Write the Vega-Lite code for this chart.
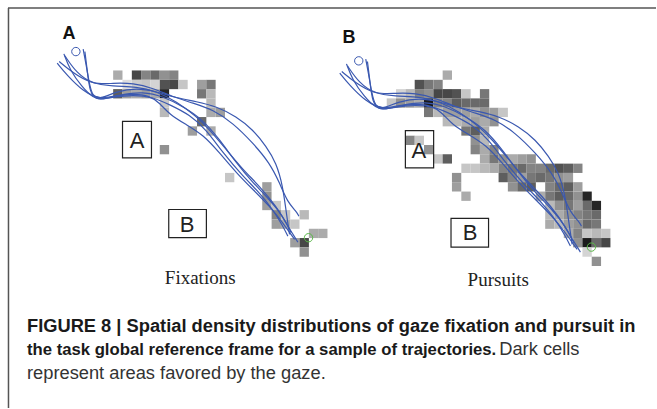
{
"$schema": "https://vega.github.io/schema/vega-lite/v6.json",
"width": 657, "height": 409,
"autosize": {"type": "fit", "contains": "padding"},
"padding": 0,
"background": "white",
"config": {"view": {"stroke": null}},
"datasets": {
"frame": [
{"x": 8, "y": 8, "x2": 657, "y2": 8},
{"x": 8.5, "y": 8, "x2": 8.5, "y2": 409}
],
"boxes": [
{"x": 122.7, "y": 121.7, "x2": 151.7, "y2": 158.3},
{"x": 169, "y": 210, "x2": 206.7, "y2": 238.3},
{"x": 406, "y": 131, "x2": 434.3, "y2": 168.3},
{"x": 451.7, "y": 219, "x2": 489.3, "y2": 247.7}
],
"cells": [
{"x":118,"y":75.3,"v":0.3},{"x":136.7,"y":75.3,"v":0.7},{"x":146,"y":75.3,"v":0.45},{"x":155.3,"y":75.3,"v":0.55},{"x":164.7,"y":75.3,"v":0.4},{"x":174,"y":75.3,"v":0.45},
{"x":127.3,"y":84.7,"v":0.12},{"x":136.7,"y":84.7,"v":0.18},{"x":146,"y":84.7,"v":0.2},{"x":155.3,"y":84.7,"v":0.15},{"x":164.7,"y":84.7,"v":0.65},{"x":174,"y":84.7,"v":0.7},{"x":183.3,"y":84.7,"v":0.2},{"x":202,"y":84.7,"v":0.35},{"x":211.3,"y":84.7,"v":0.5},
{"x":118,"y":94,"v":0.6},{"x":127.3,"y":94,"v":0.35},{"x":136.7,"y":94,"v":0.3},{"x":146,"y":94,"v":0.35},{"x":155.3,"y":94,"v":0.3},{"x":164.7,"y":94,"v":0.85},{"x":202,"y":94,"v":0.5},{"x":211.3,"y":94,"v":0.25},
{"x":164.7,"y":103.3,"v":0.2},{"x":211.3,"y":103.3,"v":0.25},
{"x":164.7,"y":112.7,"v":0.25},{"x":211.3,"y":112.7,"v":0.3},{"x":220.7,"y":112.7,"v":0.35},
{"x":202,"y":122,"v":0.55},
{"x":192.7,"y":131.3,"v":0.35},{"x":211.3,"y":131.3,"v":0.3},
{"x":164.7,"y":150,"v":0.4},
{"x":230,"y":178,"v":0.2},
{"x":267.3,"y":187.3,"v":0.35},
{"x":267.3,"y":196.7,"v":0.4},
{"x":267.3,"y":206,"v":0.35},{"x":276.7,"y":206,"v":0.2},
{"x":276.7,"y":215.3,"v":0.45},{"x":286,"y":215.3,"v":0.2},{"x":304.7,"y":215.3,"v":0.25},
{"x":276.7,"y":224.7,"v":0.35},{"x":286,"y":224.7,"v":0.3},{"x":295.3,"y":224.7,"v":0.2},
{"x":314,"y":234,"v":0.3},{"x":323.3,"y":234,"v":0.3},
{"x":295.3,"y":243.3,"v":0.35},{"x":304.7,"y":243.3,"v":0.7},
{"x":304.7,"y":252.7,"v":0.4},

{"x":448,"y":75.3,"v":0.3},
{"x":420,"y":84.7,"v":0.65},{"x":429.3,"y":84.7,"v":0.5},{"x":438.7,"y":84.7,"v":0.45},
{"x":401.3,"y":94,"v":0.15},{"x":410.7,"y":94,"v":0.25},{"x":420,"y":94,"v":0.45},{"x":429.3,"y":94,"v":0.4},{"x":438.7,"y":94,"v":0.7},{"x":448,"y":94,"v":0.7},{"x":457.3,"y":94,"v":0.65},{"x":466.7,"y":94,"v":0.2},{"x":485.3,"y":94,"v":0.5},
{"x":392,"y":103.3,"v":0.2},{"x":401.3,"y":103.3,"v":0.4},{"x":410.7,"y":103.3,"v":0.35},{"x":420,"y":103.3,"v":0.3},{"x":429.3,"y":103.3,"v":0.9},{"x":438.7,"y":103.3,"v":0.45},{"x":448,"y":103.3,"v":0.45},{"x":457.3,"y":103.3,"v":0.6},{"x":466.7,"y":103.3,"v":0.55},{"x":476,"y":103.3,"v":0.55},{"x":485.3,"y":103.3,"v":0.55},
{"x":429.3,"y":112.7,"v":0.5},{"x":438.7,"y":112.7,"v":0.25},{"x":448,"y":112.7,"v":0.35},{"x":457.3,"y":112.7,"v":0.35},{"x":466.7,"y":112.7,"v":0.35},{"x":476,"y":112.7,"v":0.3},{"x":485.3,"y":112.7,"v":0.4},{"x":494.7,"y":112.7,"v":0.35},{"x":504,"y":112.7,"v":0.2},
{"x":448,"y":122,"v":0.25},{"x":457.3,"y":122,"v":0.25},{"x":466.7,"y":122,"v":0.3},{"x":476,"y":122,"v":0.35},{"x":485.3,"y":122,"v":0.3},{"x":494.7,"y":122,"v":0.4},
{"x":466.7,"y":131.3,"v":0.5},{"x":476,"y":131.3,"v":0.6},{"x":485.3,"y":131.3,"v":0.3},
{"x":410.7,"y":140.7,"v":0.45},{"x":420,"y":140.7,"v":0.2},{"x":476,"y":140.7,"v":0.4},{"x":485.3,"y":140.7,"v":0.25},
{"x":429.3,"y":150,"v":0.4},{"x":476,"y":150,"v":0.45},{"x":485.3,"y":150,"v":0.3},{"x":494.7,"y":150,"v":0.45},
{"x":438.7,"y":159.3,"v":0.2},{"x":448,"y":159.3,"v":0.6},{"x":485.3,"y":159.3,"v":0.3},{"x":494.7,"y":159.3,"v":0.5},{"x":504,"y":159.3,"v":0.4},{"x":513.3,"y":159.3,"v":0.3},{"x":522.7,"y":159.3,"v":0.35},{"x":532,"y":159.3,"v":0.4},
{"x":466.7,"y":168.7,"v":0.2},{"x":476,"y":168.7,"v":0.2},{"x":485.3,"y":168.7,"v":0.25},{"x":494.7,"y":168.7,"v":0.3},{"x":504,"y":168.7,"v":0.45},{"x":513.3,"y":168.7,"v":0.5},{"x":522.7,"y":168.7,"v":0.55},{"x":532,"y":168.7,"v":0.45},{"x":541.3,"y":168.7,"v":0.45},{"x":550.7,"y":168.7,"v":0.55},{"x":560,"y":168.7,"v":0.65},{"x":569.3,"y":168.7,"v":0.6},{"x":578.7,"y":168.7,"v":0.45},
{"x":457.3,"y":178,"v":0.4},{"x":504,"y":178,"v":0.6},{"x":513.3,"y":178,"v":0.45},{"x":522.7,"y":178,"v":0.35},{"x":532,"y":178,"v":0.5},{"x":541.3,"y":178,"v":0.55},{"x":550.7,"y":178,"v":0.5},{"x":560,"y":178,"v":0.4},{"x":569.3,"y":178,"v":0.35},
{"x":457.3,"y":187.3,"v":0.35},{"x":513.3,"y":187.3,"v":0.4},{"x":522.7,"y":187.3,"v":0.55},{"x":532,"y":187.3,"v":0.6},{"x":550.7,"y":187.3,"v":0.45},{"x":560,"y":187.3,"v":0.55},{"x":569.3,"y":187.3,"v":0.6},{"x":578.7,"y":187.3,"v":0.35},
{"x":466.7,"y":196.7,"v":0.3},{"x":541.3,"y":196.7,"v":0.3},{"x":550.7,"y":196.7,"v":0.5},{"x":560,"y":196.7,"v":0.6},{"x":569.3,"y":196.7,"v":0.55},{"x":578.7,"y":196.7,"v":0.4},{"x":588,"y":196.7,"v":0.85},
{"x":550.7,"y":206,"v":0.25},{"x":560,"y":206,"v":0.4},{"x":569.3,"y":206,"v":0.5},{"x":578.7,"y":206,"v":0.35},{"x":588,"y":206,"v":0.55},{"x":597.3,"y":206,"v":0.85},
{"x":550.7,"y":215.3,"v":0.25},{"x":560,"y":215.3,"v":0.3},{"x":569.3,"y":215.3,"v":0.4},{"x":578.7,"y":215.3,"v":0.45},{"x":588,"y":215.3,"v":0.5},{"x":597.3,"y":215.3,"v":0.55},
{"x":550.7,"y":224.7,"v":0.3},{"x":560,"y":224.7,"v":0.25},{"x":569.3,"y":224.7,"v":0.35},{"x":578.7,"y":224.7,"v":0.4},{"x":588,"y":224.7,"v":0.55},{"x":597.3,"y":224.7,"v":0.5},
{"x":569.3,"y":234,"v":0.3},{"x":578.7,"y":234,"v":0.45},{"x":588,"y":234,"v":0.2},{"x":597.3,"y":234,"v":0.25},{"x":606.7,"y":234,"v":0.2},
{"x":578.7,"y":243.3,"v":0.4},{"x":588,"y":243.3,"v":0.9},{"x":597.3,"y":243.3,"v":0.55},{"x":606.7,"y":243.3,"v":0.7},
{"x":588,"y":252.7,"v":0.15},
{"x":597.3,"y":262,"v":0.4}
],
"lines": [
{"id":"a1","o":0,"x":64,"y":54},{"id":"a1","o":1,"x":70,"y":70},{"id":"a1","o":2,"x":81.7,"y":86.7},{"id":"a1","o":3,"x":93.3,"y":98.3},{"id":"a1","o":4,"x":103.3,"y":100},{"id":"a1","o":5,"x":116.7,"y":96},{"id":"a1","o":6,"x":133.3,"y":94},{"id":"a1","o":7,"x":150,"y":96},{"id":"a1","o":8,"x":160,"y":103.3},{"id":"a1","o":9,"x":170,"y":115},{"id":"a1","o":10,"x":186.7,"y":125},{"id":"a1","o":11,"x":203.3,"y":135},{"id":"a1","o":12,"x":220,"y":153.3},{"id":"a1","o":13,"x":236.7,"y":173.3},{"id":"a1","o":14,"x":253.3,"y":190},{"id":"a1","o":15,"x":270,"y":206.7},{"id":"a1","o":16,"x":283.3,"y":223.3},{"id":"a1","o":17,"x":295,"y":240},
{"id":"a2","o":0,"x":59.3,"y":61.7},{"id":"a2","o":1,"x":73.3,"y":73.3},{"id":"a2","o":2,"x":90,"y":83.3},{"id":"a2","o":3,"x":113.3,"y":86.7},{"id":"a2","o":4,"x":136.7,"y":86.7},{"id":"a2","o":5,"x":156.7,"y":91.7},{"id":"a2","o":6,"x":176.7,"y":101.7},{"id":"a2","o":7,"x":196.7,"y":116.7},{"id":"a2","o":8,"x":210,"y":130},{"id":"a2","o":9,"x":226.7,"y":150},{"id":"a2","o":10,"x":243.3,"y":170},{"id":"a2","o":11,"x":260,"y":186.7},{"id":"a2","o":12,"x":276.7,"y":206.7},{"id":"a2","o":13,"x":288.3,"y":226.7},{"id":"a2","o":14,"x":298.3,"y":242.7},
{"id":"a3","o":0,"x":83.3,"y":49.3},{"id":"a3","o":1,"x":86,"y":63.3},{"id":"a3","o":2,"x":89.3,"y":83.3},{"id":"a3","o":3,"x":92.7,"y":96.7},{"id":"a3","o":4,"x":100,"y":99.3},{"id":"a3","o":5,"x":116.7,"y":91.7},{"id":"a3","o":6,"x":136.7,"y":88.3},{"id":"a3","o":7,"x":156.7,"y":91.7},{"id":"a3","o":8,"x":176.7,"y":98.3},{"id":"a3","o":9,"x":196.7,"y":101.7},{"id":"a3","o":10,"x":216.7,"y":106.7},{"id":"a3","o":11,"x":236.7,"y":116.7},{"id":"a3","o":12,"x":253.3,"y":130},{"id":"a3","o":13,"x":266.7,"y":146.7},{"id":"a3","o":14,"x":276.7,"y":163.3},{"id":"a3","o":15,"x":283.3,"y":186.7},{"id":"a3","o":16,"x":286.7,"y":213.3},{"id":"a3","o":17,"x":290,"y":235},
{"id":"a4","o":0,"x":65,"y":56},{"id":"a4","o":1,"x":76.7,"y":73.3},{"id":"a4","o":2,"x":93.3,"y":85},{"id":"a4","o":3,"x":113.3,"y":83.3},{"id":"a4","o":4,"x":133.3,"y":83.3},{"id":"a4","o":5,"x":153.3,"y":88.3},{"id":"a4","o":6,"x":173.3,"y":97.3},{"id":"a4","o":7,"x":193.3,"y":103.3},{"id":"a4","o":8,"x":213.3,"y":110},{"id":"a4","o":9,"x":233.3,"y":123.3},{"id":"a4","o":10,"x":253.3,"y":143.3},{"id":"a4","o":11,"x":270,"y":163.3},{"id":"a4","o":12,"x":280,"y":183.3},{"id":"a4","o":13,"x":288.3,"y":203.3},{"id":"a4","o":14,"x":296.7,"y":211.7},{"id":"a4","o":15,"x":299.3,"y":216.7},
{"id":"a5","o":0,"x":57.3,"y":63.3},{"id":"a5","o":1,"x":66.7,"y":75},{"id":"a5","o":2,"x":83.3,"y":91.7},{"id":"a5","o":3,"x":100,"y":100},{"id":"a5","o":4,"x":120,"y":95},{"id":"a5","o":5,"x":143.3,"y":91.7},{"id":"a5","o":6,"x":163.3,"y":96.7},{"id":"a5","o":7,"x":183.3,"y":106.7},{"id":"a5","o":8,"x":203.3,"y":120},{"id":"a5","o":9,"x":220,"y":140},{"id":"a5","o":10,"x":236.7,"y":163.3},{"id":"a5","o":11,"x":253.3,"y":183.3},{"id":"a5","o":12,"x":270,"y":200},{"id":"a5","o":13,"x":283.3,"y":216.7},{"id":"a5","o":14,"x":291.7,"y":233.3},
{"id":"a6","o":0,"x":85,"y":51.7},{"id":"a6","o":1,"x":87.3,"y":70},{"id":"a6","o":2,"x":90,"y":93.3},{"id":"a6","o":3,"x":96.7,"y":100.7},{"id":"a6","o":4,"x":113.3,"y":97.3},{"id":"a6","o":5,"x":133.3,"y":95},{"id":"a6","o":6,"x":153.3,"y":97.3},{"id":"a6","o":7,"x":170,"y":105},{"id":"a6","o":8,"x":190,"y":115},{"id":"a6","o":9,"x":206.7,"y":130},{"id":"a6","o":10,"x":223.3,"y":153.3},{"id":"a6","o":11,"x":243.3,"y":176.7},{"id":"a6","o":12,"x":260,"y":193.3},{"id":"a6","o":13,"x":273.3,"y":210},{"id":"a6","o":14,"x":283.3,"y":226.7},{"id":"a6","o":15,"x":288.3,"y":236.7},
{"id":"b1","o":0,"x":347,"y":64},{"id":"b1","o":1,"x":353,"y":80},{"id":"b1","o":2,"x":364.7,"y":96.7},{"id":"b1","o":3,"x":376.3,"y":108.3},{"id":"b1","o":4,"x":386.3,"y":110},{"id":"b1","o":5,"x":399.7,"y":106},{"id":"b1","o":6,"x":416.3,"y":104},{"id":"b1","o":7,"x":433,"y":106},{"id":"b1","o":8,"x":443,"y":113.3},{"id":"b1","o":9,"x":453,"y":125},{"id":"b1","o":10,"x":469.7,"y":135},{"id":"b1","o":11,"x":486.3,"y":145},{"id":"b1","o":12,"x":503,"y":163.3},{"id":"b1","o":13,"x":519.7,"y":183.3},{"id":"b1","o":14,"x":536.3,"y":200},{"id":"b1","o":15,"x":553,"y":216.7},{"id":"b1","o":16,"x":566.3,"y":233.3},{"id":"b1","o":17,"x":578,"y":250},
{"id":"b2","o":0,"x":342.3,"y":71.7},{"id":"b2","o":1,"x":356.3,"y":83.3},{"id":"b2","o":2,"x":373,"y":93.3},{"id":"b2","o":3,"x":396.3,"y":96.7},{"id":"b2","o":4,"x":419.7,"y":96.7},{"id":"b2","o":5,"x":439.7,"y":101.7},{"id":"b2","o":6,"x":459.7,"y":111.7},{"id":"b2","o":7,"x":479.7,"y":126.7},{"id":"b2","o":8,"x":493,"y":140},{"id":"b2","o":9,"x":509.7,"y":160},{"id":"b2","o":10,"x":526.3,"y":180},{"id":"b2","o":11,"x":543,"y":196.7},{"id":"b2","o":12,"x":559.7,"y":216.7},{"id":"b2","o":13,"x":571.3,"y":236.7},{"id":"b2","o":14,"x":581.3,"y":252.7},
{"id":"b3","o":0,"x":366.3,"y":59.3},{"id":"b3","o":1,"x":369,"y":73.3},{"id":"b3","o":2,"x":372.3,"y":93.3},{"id":"b3","o":3,"x":375.7,"y":106.7},{"id":"b3","o":4,"x":383,"y":109.3},{"id":"b3","o":5,"x":399.7,"y":101.7},{"id":"b3","o":6,"x":419.7,"y":98.3},{"id":"b3","o":7,"x":439.7,"y":101.7},{"id":"b3","o":8,"x":459.7,"y":108.3},{"id":"b3","o":9,"x":479.7,"y":111.7},{"id":"b3","o":10,"x":499.7,"y":116.7},{"id":"b3","o":11,"x":519.7,"y":126.7},{"id":"b3","o":12,"x":536.3,"y":140},{"id":"b3","o":13,"x":549.7,"y":156.7},{"id":"b3","o":14,"x":559.7,"y":173.3},{"id":"b3","o":15,"x":566.3,"y":196.7},{"id":"b3","o":16,"x":569.7,"y":223.3},{"id":"b3","o":17,"x":573,"y":245},
{"id":"b4","o":0,"x":348,"y":66},{"id":"b4","o":1,"x":359.7,"y":83.3},{"id":"b4","o":2,"x":376.3,"y":95},{"id":"b4","o":3,"x":396.3,"y":93.3},{"id":"b4","o":4,"x":416.3,"y":93.3},{"id":"b4","o":5,"x":436.3,"y":98.3},{"id":"b4","o":6,"x":456.3,"y":107.3},{"id":"b4","o":7,"x":476.3,"y":113.3},{"id":"b4","o":8,"x":496.3,"y":120},{"id":"b4","o":9,"x":516.3,"y":133.3},{"id":"b4","o":10,"x":536.3,"y":153.3},{"id":"b4","o":11,"x":553,"y":173.3},{"id":"b4","o":12,"x":563,"y":193.3},{"id":"b4","o":13,"x":571.3,"y":213.3},{"id":"b4","o":14,"x":579.7,"y":221.7},{"id":"b4","o":15,"x":582.3,"y":226.7},
{"id":"b5","o":0,"x":340.3,"y":73.3},{"id":"b5","o":1,"x":349.7,"y":85},{"id":"b5","o":2,"x":366.3,"y":101.7},{"id":"b5","o":3,"x":383,"y":110},{"id":"b5","o":4,"x":403,"y":105},{"id":"b5","o":5,"x":426.3,"y":101.7},{"id":"b5","o":6,"x":446.3,"y":106.7},{"id":"b5","o":7,"x":466.3,"y":116.7},{"id":"b5","o":8,"x":486.3,"y":130},{"id":"b5","o":9,"x":503,"y":150},{"id":"b5","o":10,"x":519.7,"y":173.3},{"id":"b5","o":11,"x":536.3,"y":193.3},{"id":"b5","o":12,"x":553,"y":210},{"id":"b5","o":13,"x":566.3,"y":226.7},{"id":"b5","o":14,"x":574.7,"y":243.3},
{"id":"b6","o":0,"x":368,"y":61.7},{"id":"b6","o":1,"x":370.3,"y":80},{"id":"b6","o":2,"x":373,"y":103.3},{"id":"b6","o":3,"x":379.7,"y":110.7},{"id":"b6","o":4,"x":396.3,"y":107.3},{"id":"b6","o":5,"x":416.3,"y":105},{"id":"b6","o":6,"x":436.3,"y":107.3},{"id":"b6","o":7,"x":453,"y":115},{"id":"b6","o":8,"x":473,"y":125},{"id":"b6","o":9,"x":489.7,"y":140},{"id":"b6","o":10,"x":506.3,"y":163.3},{"id":"b6","o":11,"x":526.3,"y":186.7},{"id":"b6","o":12,"x":543,"y":203.3},{"id":"b6","o":13,"x":556.3,"y":220},{"id":"b6","o":14,"x":566.3,"y":236.7},{"id":"b6","o":15,"x":571.3,"y":246.7}
],
"starts": [{"x": 76, "y": 51.7}, {"x": 359.3, "y": 61}],
"ends": [{"x": 309, "y": 238.3}, {"x": 592.3, "y": 247.7}],
"texts": [
{"g": "panel", "t": "A", "x": 62.5, "y": 39.5},
{"g": "panel", "t": "B", "x": 343, "y": 43},
{"g": "box", "t": "A", "x": 137.3, "y": 148.3},
{"g": "box", "t": "B", "x": 187.5, "y": 232.7},
{"g": "box", "t": "A", "x": 419.6, "y": 158.3},
{"g": "box", "t": "B", "x": 470.7, "y": 240.7},
{"g": "serif", "t": "Fixations", "x": 200.5, "y": 285},
{"g": "serif", "t": "Pursuits", "x": 499, "y": 286.5},
{"g": "capb", "t": "FIGURE 8 | Spatial density distributions of gaze fixation and pursuit in", "x": 27, "y": 332.5},
{"g": "capb2", "t": "the task global reference frame for a sample of trajectories.", "x": 27, "y": 356},
{"g": "capr", "t": "Dark cells", "x": 500, "y": 356},
{"g": "capr", "t": "represent areas favored by the gaze.", "x": 27, "y": 379.5}
]
},
"layer": [
{
"data": {"name": "frame"},
"mark": {"type": "rule", "color": "#555555", "strokeWidth": 1.5},
"encoding": {
"x": {"field": "x", "type": "quantitative", "scale": {"domain": [0, 657], "nice": false, "zero": false}, "axis": null},
"y": {"field": "y", "type": "quantitative", "scale": {"domain": [0, 409], "nice": false, "zero": false, "reverse": true}, "axis": null},
"x2": {"field": "x2"},
"y2": {"field": "y2"}
}
},
{
"data": {"name": "cells"},
"mark": {"type": "square", "size": 87, "opacity": 1, "strokeWidth": 0},
"encoding": {
"x": {"field": "x", "type": "quantitative", "scale": {"domain": [0, 657], "nice": false, "zero": false}, "axis": null},
"y": {"field": "y", "type": "quantitative", "scale": {"domain": [0, 409], "nice": false, "zero": false, "reverse": true}, "axis": null},
"color": {"field": "v", "type": "quantitative", "scale": {"domain": [0, 1], "range": ["#ffffff", "#000000"]}, "legend": null}
}
},
{
"data": {"name": "boxes"},
"mark": {"type": "rect", "fillOpacity": 0, "stroke": "#222222", "strokeWidth": 1.2},
"encoding": {
"x": {"field": "x", "type": "quantitative", "scale": {"domain": [0, 657], "nice": false, "zero": false}, "axis": null},
"y": {"field": "y", "type": "quantitative", "scale": {"domain": [0, 409], "nice": false, "zero": false, "reverse": true}, "axis": null},
"x2": {"field": "x2"},
"y2": {"field": "y2"}
}
},
{
"data": {"name": "lines"},
"mark": {"type": "line", "color": "#3a58b0", "strokeWidth": 1.2, "interpolate": "basis"},
"encoding": {
"x": {"field": "x", "type": "quantitative", "scale": {"domain": [0, 657], "nice": false, "zero": false}, "axis": null},
"y": {"field": "y", "type": "quantitative", "scale": {"domain": [0, 409], "nice": false, "zero": false, "reverse": true}, "axis": null},
"detail": {"field": "id"},
"order": {"field": "o", "type": "quantitative"}
}
},
{
"data": {"name": "starts"},
"mark": {"type": "point", "shape": "circle", "size": 70, "filled": false, "stroke": "#3a58b0", "strokeWidth": 1, "opacity": 1},
"encoding": {
"x": {"field": "x", "type": "quantitative", "scale": {"domain": [0, 657], "nice": false, "zero": false}, "axis": null},
"y": {"field": "y", "type": "quantitative", "scale": {"domain": [0, 409], "nice": false, "zero": false, "reverse": true}, "axis": null}
}
},
{
"data": {"name": "ends"},
"mark": {"type": "point", "shape": "circle", "size": 70, "filled": false, "stroke": "#5cb84a", "strokeWidth": 1, "opacity": 1},
"encoding": {
"x": {"field": "x", "type": "quantitative", "scale": {"domain": [0, 657], "nice": false, "zero": false}, "axis": null},
"y": {"field": "y", "type": "quantitative", "scale": {"domain": [0, 409], "nice": false, "zero": false, "reverse": true}, "axis": null}
}
},
{
"data": {"name": "texts"},
"transform": [{"filter": "datum.g === 'panel'"}],
"mark": {"type": "text", "font": "Liberation Sans", "fontWeight": "bold", "fontSize": 18, "align": "left", "baseline": "alphabetic", "color": "#111111"},
"encoding": {
"x": {"field": "x", "type": "quantitative", "scale": {"domain": [0, 657], "nice": false, "zero": false}, "axis": null},
"y": {"field": "y", "type": "quantitative", "scale": {"domain": [0, 409], "nice": false, "zero": false, "reverse": true}, "axis": null},
"text": {"field": "t"}
}
},
{
"data": {"name": "texts"},
"transform": [{"filter": "datum.g === 'box'"}],
"mark": {"type": "text", "font": "Liberation Sans", "fontSize": 22, "align": "center", "baseline": "alphabetic", "color": "#222222"},
"encoding": {
"x": {"field": "x", "type": "quantitative", "scale": {"domain": [0, 657], "nice": false, "zero": false}, "axis": null},
"y": {"field": "y", "type": "quantitative", "scale": {"domain": [0, 409], "nice": false, "zero": false, "reverse": true}, "axis": null},
"text": {"field": "t"}
}
},
{
"data": {"name": "texts"},
"transform": [{"filter": "datum.g === 'serif'"}],
"mark": {"type": "text", "font": "Liberation Serif", "fontSize": 19, "align": "center", "baseline": "alphabetic", "color": "#222222"},
"encoding": {
"x": {"field": "x", "type": "quantitative", "scale": {"domain": [0, 657], "nice": false, "zero": false}, "axis": null},
"y": {"field": "y", "type": "quantitative", "scale": {"domain": [0, 409], "nice": false, "zero": false, "reverse": true}, "axis": null},
"text": {"field": "t"}
}
},
{
"data": {"name": "texts"},
"transform": [{"filter": "datum.g === 'capb'"}],
"mark": {"type": "text", "font": "Liberation Sans", "fontWeight": "bold", "fontSize": 18.3, "align": "left", "baseline": "alphabetic", "color": "#1a1a1a"},
"encoding": {
"x": {"field": "x", "type": "quantitative", "scale": {"domain": [0, 657], "nice": false, "zero": false}, "axis": null},
"y": {"field": "y", "type": "quantitative", "scale": {"domain": [0, 409], "nice": false, "zero": false, "reverse": true}, "axis": null},
"text": {"field": "t"}
}
},
{
"data": {"name": "texts"},
"transform": [{"filter": "datum.g === 'capb2'"}],
"mark": {"type": "text", "font": "Liberation Sans", "fontWeight": "bold", "fontSize": 16.7, "align": "left", "baseline": "alphabetic", "color": "#1a1a1a"},
"encoding": {
"x": {"field": "x", "type": "quantitative", "scale": {"domain": [0, 657], "nice": false, "zero": false}, "axis": null},
"y": {"field": "y", "type": "quantitative", "scale": {"domain": [0, 409], "nice": false, "zero": false, "reverse": true}, "axis": null},
"text": {"field": "t"}
}
},
{
"data": {"name": "texts"},
"transform": [{"filter": "datum.g === 'capr'"}],
"mark": {"type": "text", "font": "Liberation Sans", "fontSize": 18.3, "align": "left", "baseline": "alphabetic", "color": "#333333"},
"encoding": {
"x": {"field": "x", "type": "quantitative", "scale": {"domain": [0, 657], "nice": false, "zero": false}, "axis": null},
"y": {"field": "y", "type": "quantitative", "scale": {"domain": [0, 409], "nice": false, "zero": false, "reverse": true}, "axis": null},
"text": {"field": "t"}
}
}
]
}
